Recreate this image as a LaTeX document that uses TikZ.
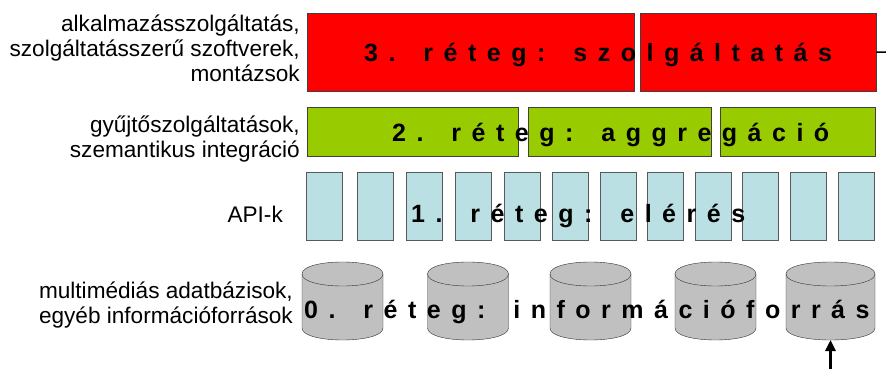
\documentclass[tikz,border=0pt]{standalone}
\usepackage{fontspec}
\setmainfont{Liberation Sans}
\usepackage{tikz}
\usetikzlibrary{arrows, arrows.meta}
\definecolor{servred}{HTML}{FF0000}
\definecolor{aggrgreen}{HTML}{99CC00}
\definecolor{apiblue}{HTML}{BBE0E3}
\definecolor{srcgray}{HTML}{C0C0C0}
\tikzstyle{layerthree} = [rectangle, anchor=north west, minimum height=78, inner sep=0, draw=black!75, fill=servred]
\tikzstyle{layertwo} = [rectangle, anchor=north west, minimum height=49, inner sep=0, draw=black!75, fill=aggrgreen]
\tikzstyle{api} = [rectangle, anchor=north west, minimum width=36, minimum height=68, inner sep=0, draw=black!65, fill=apiblue]
\tikzstyle{source} = [draw=black!80, fill=srcgray]
\tikzstyle{title} = [anchor=base west, inner sep=0, font=\fontsize{25}{30}\selectfont\bfseries]
\tikzstyle{label} = [anchor=east, inner sep=0, align=right, font=\fontsize{22.6}{25}\selectfont]
\tikzstyle{arrow} = [line width=2.5pt,-{Triangle[length=11pt,width=10pt]}]
% wide letter spacing for the layer names
\makeatletter
\newcommand{\spreadtext}[1]{\@tfor\@ch:=#1\do{\@ch\kern10.5pt}}
\makeatother
% cylinder: name, centre x, width
\newcommand{\datasource}[3]{%
  \filldraw [source] ({#2-#3/2},274) -- ({#2-#3/2},328)
    .. controls ({#2-#3/2},344) and ({#2+#3/2},344) .. ({#2+#3/2},328)
    -- ({#2+#3/2},274)
    .. controls ({#2+#3/2},258) and ({#2-#3/2},258) .. ({#2-#3/2},274) -- cycle;
  \draw [source, fill=none] ({#2-#3/2},274) .. controls ({#2-#3/2},290) and ({#2+#3/2},290) .. ({#2+#3/2},274);
  \coordinate (#1) at (#2,340);
}

\begin{document}
\begin{tikzpicture}[x=1pt, y=-1pt]
\useasboundingbox (0,0) rectangle (886,369);
% 3. reteg
\node (r1) [layerthree, minimum width=327] at (307,13) {};
\node (r2) [layerthree, minimum width=236] at (640,13) {};
% 2. reteg
\node (g1) [layertwo, minimum width=211] at (307,107) {};
\node (g2) [layertwo, minimum width=183] at (528,107) {};
\node (g3) [layertwo, minimum width=155] at (720,107) {};
% 1. reteg
\node (a1) [api] at (306,172) {};
\node (a2) [api] at (357,172) {};
\node (a3) [api] at (406,172) {};
\node (a4) [api] at (455,172) {};
\node (a5) [api] at (504,172) {};
\node (a6) [api] at (552,172) {};
\node (a7) [api] at (600,172) {};
\node (a8) [api] at (647,172) {};
\node (a9) [api] at (695,172) {};
\node (a10) [api] at (742,172) {};
\node (a11) [api] at (790,172) {};
\node (a12) [api] at (838,172) {};
% 0. reteg
\datasource{c1}{342.5}{81}
\datasource{c2}{468}{81}
\datasource{c3}{590.5}{81}
\datasource{c4}{715.5}{81}
\datasource{c5}{830.5}{89}
% layer texts
\node (t3) [title] at (364,62) {\spreadtext{3.~réteg:~szolgáltatás}};
\node (t2) [title] at (392,141) {\spreadtext{2.~réteg:~aggregáció}};
\node (t1) [title] at (411,222) {\spreadtext{1.~réteg:~elérés}};
\node (t0) [title] at (304,318) {\spreadtext{0.~réteg:~információforrás}};
% left labels
\node (l3) [label] at (300,48) {alkalmazásszolgáltatás,\\szolgáltatásszerű szoftverek,\\montázsok};
\node (l2) [label] at (300,139) {gyűjtőszolgáltatások,\\szemantikus integráció};
\node (l1) [label] at (283,214) {API-k};
\node (l0) [label] at (293,305) {multimédiás adatbázisok,\\egyéb információforrások};
% connectors leaving the picture
\coordinate (out) at (886,52);
\coordinate (in) at (830.5,369);
\draw [line width=1.5pt] (r2.east) -- (out);
\draw [arrow] (in) -- (c5);
\end{tikzpicture}
\end{document}
